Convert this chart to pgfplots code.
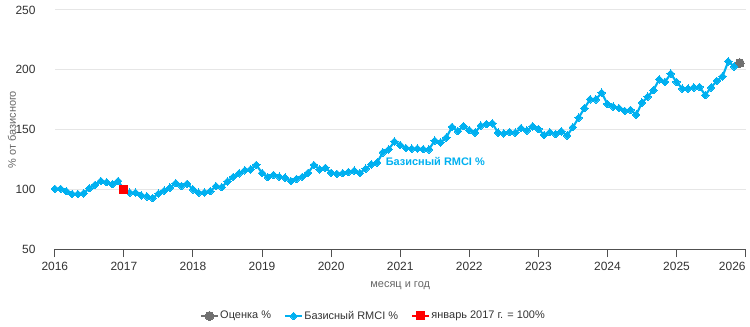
\documentclass[border=0pt]{standalone}
\usepackage{fontspec}
\setmainfont{Liberation Sans}
\usepackage{pgfplots}
\pgfplotsset{compat=1.18}
\usepackage{pgfplotstable}
\definecolor{rmci}{RGB}{0,176,240}
\definecolor{gridc}{RGB}{230,230,230}
\definecolor{txt}{RGB}{51,51,51}
\definecolor{ttl}{RGB}{102,102,102}
\definecolor{est}{RGB}{112,112,112}
\definecolor{axisc}{RGB}{80,80,80}

\pgfplotstableread{
m v
0 100.5
1 100.5
2 98.5
3 96.2
4 96.2
5 96.7
6 101
7 103.8
8 107
9 106
10 104.4
11 107
12 100
13 97.3
14 97.3
15 95
16 94.2
17 92.8
18 96.5
19 99
20 101.5
21 105.2
22 103
23 104.7
24 100
25 97.2
26 97.5
27 98.6
28 102.7
29 101.8
30 106.7
31 110.5
32 113.5
33 116
34 116.8
35 120.5
36 113.7
37 110.2
38 112.1
39 110.6
40 109.8
41 107
42 108.8
43 110.5
44 113.8
45 120.4
46 116.8
47 118
48 113.9
49 113
50 113.6
51 114.6
52 115.7
53 113.7
54 117.3
55 121
56 122.5
57 131
58 133.5
59 140
60 137.1
61 134.6
62 134
63 134.2
64 133.6
65 133.5
66 140.8
67 139.4
68 143.2
69 152.2
70 148.8
71 152.8
72 149.5
73 147.5
74 153.3
75 154.5
76 155.3
77 147.4
78 146.8
79 148
80 147.5
81 151.2
82 149.2
83 152.7
84 150.5
85 145.5
86 147.8
87 146.4
88 148.6
89 145
90 152
91 159.9
92 167.9
93 175.3
94 175.3
95 180.8
96 171.4
97 169.2
98 167.9
99 165.7
100 166.5
101 162.4
102 172.5
103 177.5
104 183
105 192
106 189.8
107 196.7
108 189.8
109 184.3
110 184.3
111 185.2
112 185.7
113 178.8
114 185.2
115 190.7
116 194.5
117 207
118 202.7
}\rmcidata

\pgfplotstableread{
m v
119 205.6
}\estdata

\pgfplotstableread{
m v
12 100
}\basedata

\begin{document}
\begin{tikzpicture}
\begin{axis}[
  scale only axis, width=519.75pt, height=180pt,
  xmin=0, xmax=120, ymin=50, ymax=250,
  xtick={0,12,24,36,48,60,72,84,96,108,120},
  xticklabels={2016,2017,2018,2019,2020,2021,2022,2023,2024,2025,\makebox[0pt][r]{2026}},
  ytick={50,100,150,200,250},
  ymajorgrids, grid style={gridc, line width=0.75pt},
  axis x line*=bottom, axis y line*=left,
  x axis line style={-, draw=axisc, line width=0.75pt},
  y axis line style={draw=none},
  xtick pos=bottom, ytick pos=left,
  xtick style={draw=axisc, line width=0.75pt}, ytick style={draw=none},
  tick align=outside, major tick length=6pt,
  ticklabel style={font=\fontsize{9}{11}\selectfont, text=txt},
  yticklabel style={xshift=-5pt},
  /pgf/number format/assume math mode=true,
  xlabel={месяц и год}, ylabel={\% от базисного},
  every axis x label/.style={at={(axis description cs:0.5,-0.154)}, anchor=center,
    font=\fontsize{8.25}{10}\selectfont, text=ttl},
  every axis y label/.style={at={(axis description cs:-0.062,0.5)}, anchor=center, rotate=90,
    font=\fontsize{8.25}{10}\selectfont, text=ttl},
  legend style={draw=none, fill=none, at={(axis description cs:0.4618,-0.279)}, anchor=center,
    legend columns=3, font=\fontsize{8.25}{10}\selectfont, text=txt,
    /tikz/every even column/.append style={column sep=8pt},
    /tikz/every odd column/.append style={column sep=-1pt}},
  legend cell align=left,
  legend image code/.code={
    \draw[mark repeat=2,mark phase=2] plot coordinates {(0cm,0cm) (0.22cm,0cm) (0.44cm,0cm)};},
  clip=false,
]
\addplot[est, line width=1.6pt, mark=*, mark size=3.3pt, mark options={draw=est, fill=est, line width=0pt}] table[x=m,y=v] {\estdata};
\addlegendentry{Оценка \%}
\addplot[rmci, line width=1.6pt, mark=square*, mark size=2pt, mark options={rotate=45, fill=rmci, draw=rmci, line width=0pt}] table[x=m,y=v] {\rmcidata};
\addlegendentry{Базисный RMCI \%}
\addplot[red, line width=1.6pt, mark=square*, mark size=3pt, mark options={fill=red, draw=red, line width=0pt}] table[x=m,y=v] {\basedata};
\addlegendentry{январь 2017 г. = 100\%}
\node[font=\bfseries\fontsize{8.25}{10}\selectfont, text=rmci] at (axis cs:66.1,123.5) {Базисный RMCI \%};
\end{axis}
\path[use as bounding box] (-41.25pt,-56.25pt) rectangle (521.25pt,187.5pt);
\end{tikzpicture}
\end{document}
